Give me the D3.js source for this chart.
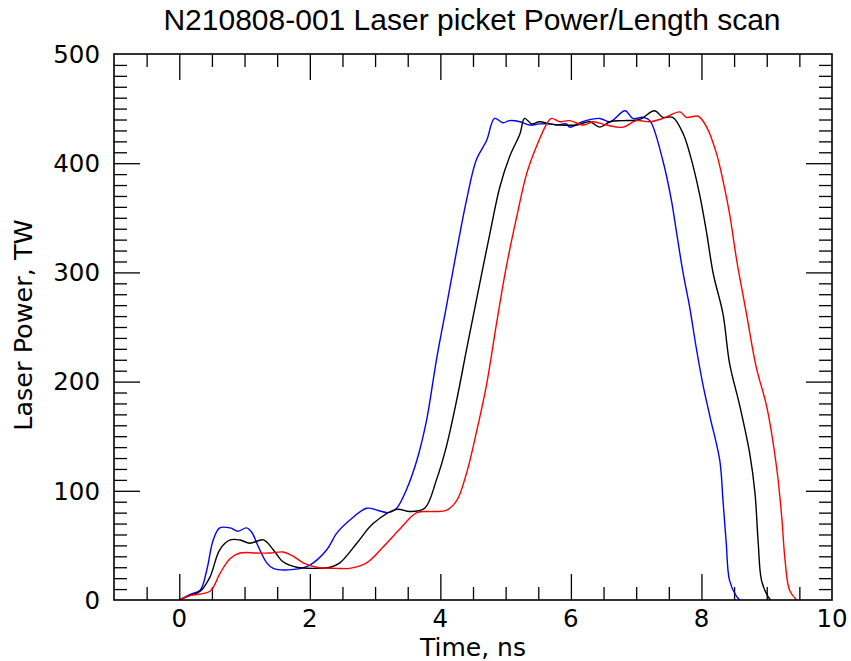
<!DOCTYPE html>
<html>
<head>
<meta charset="utf-8">
<script src="https://cdn.jsdelivr.net/npm/d3@7"></script>
<style>
  html, body { margin: 0; padding: 0; background: #fff; }
  svg { display: block; }
</style>
</head>
<body>
<svg id="chart" width="851" height="661"></svg>
<script>
// Blue pulse (earliest)
const blueTime = [0, 0.16, 0.32, 0.42, 0.52, 0.62, 0.78, 0.90, 1.03, 1.11, 1.21, 1.34, 1.44, 1.75, 2.0, 2.26, 2.41, 2.61, 2.87, 3.05, 3.20, 3.33, 3.48, 3.64, 3.79, 3.94, 4.09, 4.25, 4.40, 4.55, 4.71, 4.83, 4.96, 5.06, 5.22, 5.37, 5.52, 5.68, 5.78, 5.93, 5.98, 6.18, 6.44, 6.60, 6.83, 6.95, 7.11, 7.21, 7.41, 7.54, 7.62, 7.72, 7.82, 7.92, 8.02, 8.13, 8.28, 8.33, 8.38, 8.43, 8.54, 8.59];
const bluePower = [0, 5, 9, 27, 55, 66, 66, 63, 66, 62, 49, 34, 29, 28, 32, 46, 61, 73, 84, 82, 80, 84, 101, 128, 165, 220, 268, 320, 366, 403, 421, 441, 437, 439, 438, 435, 436, 436, 435, 436, 433, 438, 441, 438, 448, 441, 442, 439, 402, 366, 336, 299, 268, 231, 198, 168, 128, 91, 52, 18, 3, 0];

// Black pulse (middle)
const blackTime = [0, 0.16, 0.32, 0.47, 0.62, 0.78, 0.93, 1.08, 1.29, 1.44, 1.59, 1.80, 2.10, 2.31, 2.46, 2.72, 2.97, 3.33, 3.53, 3.76, 3.94, 4.09, 4.25, 4.40, 4.55, 4.76, 4.91, 5.06, 5.22, 5.29, 5.40, 5.52, 5.68, 5.83, 6.09, 6.29, 6.44, 6.60, 6.80, 7.05, 7.28, 7.41, 7.56, 7.72, 7.82, 7.97, 8.08, 8.18, 8.33, 8.43, 8.59, 8.74, 8.82, 8.87, 8.92, 9.02, 9.06];
const blackPower = [0, 4, 8, 21, 46, 55, 55, 52, 55, 46, 35, 30, 29, 30, 34, 52, 70, 83, 81, 84, 110, 140, 183, 229, 274, 336, 378, 406, 427, 441, 436, 438, 436, 435, 435, 438, 433, 438, 439, 440, 448, 442, 442, 427, 409, 372, 336, 299, 262, 217, 177, 134, 98, 52, 18, 3, 0];

// Red pulse (latest)
const redTime = [0, 0.16, 0.47, 0.62, 0.78, 0.93, 1.18, 1.39, 1.59, 1.75, 1.90, 2.10, 2.41, 2.61, 2.87, 3.13, 3.38, 3.64, 3.89, 4.09, 4.25, 4.40, 4.55, 4.71, 4.86, 5.01, 5.17, 5.32, 5.47, 5.63, 5.70, 5.83, 5.98, 6.19, 6.34, 6.54, 6.80, 7.00, 7.21, 7.41, 7.67, 7.77, 7.95, 8.08, 8.23, 8.33, 8.43, 8.54, 8.69, 8.84, 9.00, 9.15, 9.23, 9.28, 9.35, 9.46];
const redPower = [0, 4, 8, 24, 38, 43, 43, 43, 44, 40, 34, 30, 29, 29, 34, 49, 65, 80, 81, 82, 91, 116, 153, 198, 253, 305, 351, 390, 415, 436, 441, 438, 439, 435, 438, 435, 433, 439, 438, 441, 447, 442, 443, 433, 409, 384, 354, 311, 262, 213, 177, 122, 76, 37, 9, 0];

const xTickLabels = [0, 2, 4, 6, 8, 10];
const yTickLabels = [0, 100, 200, 300, 400, 500];

const series = [
  { name: "blue",  color: "#0000ff", t: blueTime,  p: bluePower },
  { name: "black", color: "#000000", t: blackTime, p: blackPower },
  { name: "red",   color: "#ff0000", t: redTime,   p: redPower }
];

const svg = d3.select("#chart");
const plotL = 114, plotR = 832, plotT = 54, plotB = 600;

const x = d3.scaleLinear().domain([-1, 10]).range([plotL, plotR]);
const y = d3.scaleLinear().domain([0, 500]).range([plotB, plotT]);

const font = "'DejaVu Sans', sans-serif";

// Tick marks: minor every 0.5 ns / 10 TW, major every 2 ns / 100 TW, pointing inward on all sides
const xMinor = d3.range(-0.5, 10, 0.5).filter(v => v % 2 !== 0);
const xMajor = [0, 2, 4, 6, 8];
const yMinor = d3.range(10, 500, 10).filter(v => v % 100 !== 0);
const yMajor = [100, 200, 300, 400];

function tickAxis(axis, values, size, transform) {
  svg.append("g")
    .attr("transform", transform)
    .call(axis.tickValues(values).tickSize(-size).tickFormat(""))
    .call(g => g.select(".domain").remove())
    .call(g => g.selectAll("line").attr("stroke", "#000").attr("stroke-width", 1.3));
}
tickAxis(d3.axisBottom(x), xMinor, 13, `translate(0,${plotB})`);
tickAxis(d3.axisBottom(x), xMajor, 26, `translate(0,${plotB})`);
tickAxis(d3.axisTop(x), xMinor, 13, `translate(0,${plotT})`);
tickAxis(d3.axisTop(x), xMajor, 26, `translate(0,${plotT})`);
tickAxis(d3.axisLeft(y), yMinor, 13, `translate(${plotL},0)`);
tickAxis(d3.axisLeft(y), yMajor, 26, `translate(${plotL},0)`);
tickAxis(d3.axisRight(y), yMinor, 13, `translate(${plotR},0)`);
tickAxis(d3.axisRight(y), yMajor, 26, `translate(${plotR},0)`);

// Curves (clipped to the frame so the smoothing never dips under zero)
svg.append("clipPath").attr("id", "plot-clip")
  .append("rect")
  .attr("x", plotL).attr("y", plotT)
  .attr("width", plotR - plotL).attr("height", plotB - plotT);

const line = d3.line()
  .x(d => x(d[0]))
  .y(d => y(d[1]))
  .curve(d3.curveCatmullRom.alpha(0.5));

const curves = svg.append("g").attr("clip-path", "url(#plot-clip)");
series.forEach(s => {
  curves.append("path")
    .datum(s.t.map((t, i) => [t, s.p[i]]))
    .attr("fill", "none")
    .attr("stroke", s.color)
    .attr("stroke-width", 1.4)
    .attr("d", line);
});

// Frame
svg.append("rect")
  .attr("x", plotL).attr("y", plotT)
  .attr("width", plotR - plotL).attr("height", plotB - plotT)
  .attr("fill", "none").attr("stroke", "#000").attr("stroke-width", 1.6);

// Tick labels
svg.append("g").selectAll("text")
  .data(xTickLabels).join("text")
  .attr("x", d => x(d)).attr("y", 627)
  .attr("text-anchor", "middle")
  .attr("font-family", font).attr("font-size", 24.5)
  .text(d => d);

svg.append("g").selectAll("text")
  .data(yTickLabels).join("text")
  .attr("x", 100).attr("y", d => y(d))
  .attr("dy", "0.36em")
  .attr("text-anchor", "end")
  .attr("font-family", font).attr("font-size", 24.5)
  .text(d => d);

// Axis titles
svg.append("text")
  .attr("x", 473).attr("y", 656)
  .attr("text-anchor", "middle")
  .attr("font-family", font).attr("font-size", 25)
  .text("Time, ns");

svg.append("text")
  .attr("transform", "translate(32,325) rotate(-90)")
  .attr("text-anchor", "middle")
  .attr("font-family", font).attr("font-size", 25.5)
  .text("Laser Power, TW");

svg.append("text")
  .attr("x", 472).attr("y", 30)
  .attr("text-anchor", "middle")
  .attr("font-family", "'Liberation Sans', Arial, sans-serif").attr("font-size", 30)
  .text("N210808-001 Laser picket Power/Length scan");
</script>
</body>
</html>
